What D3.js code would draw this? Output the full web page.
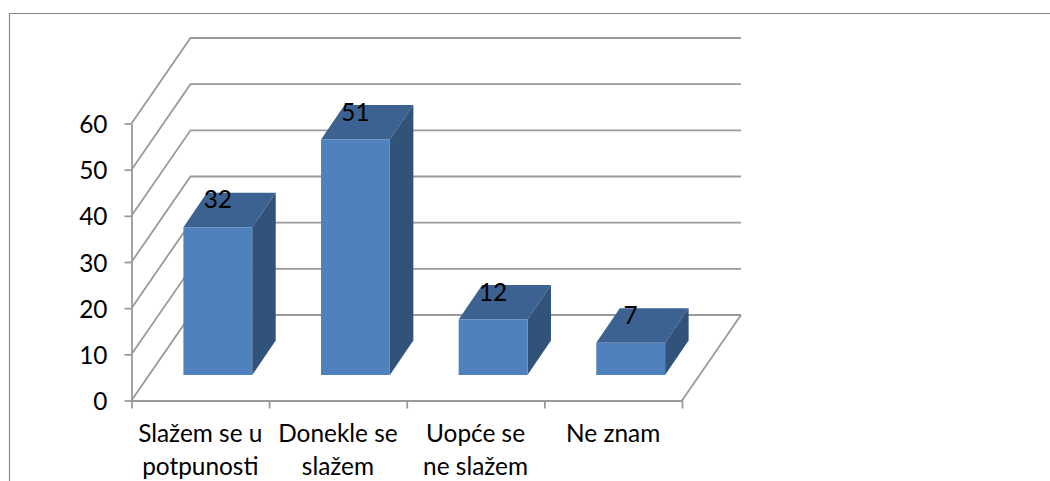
<!DOCTYPE html>
<html>
<head>
<meta charset="utf-8">
<script src="https://cdn.jsdelivr.net/npm/d3@7/dist/d3.min.js"></script>
<style>
  html, body { margin: 0; padding: 0; background: #fff; overflow: hidden; }
  svg { display: block; }
  text { font-family: Lato, "Open Sans", sans-serif; fill: #000; }
</style>
</head>
<body>
<svg width="1050" height="481"></svg>
<script>
const categories = ["Slažem se u potpunosti", "Donekle se slažem", "Uopće se ne slažem", "Ne znam"];
const categoryLines = [["Slažem se u", "potpunosti"], ["Donekle se", "slažem"], ["Uopće se", "ne slažem"], ["Ne znam"]];
const values = [32, 51, 12, 7];
const yTicks = [0, 10, 20, 30, 40, 50, 60];

const svg = d3.select("svg");
const gridCol = "#9a9a9a";
const fontSize = 24.4;

// front plane of the fake 3d box
const x = d3.scaleBand().domain(categories).range([131.5, 682]).paddingInner(0.5).paddingOuter(0.25);
const y = d3.scaleLinear().domain([0, 60]).range([400.5, 123.5]);
const xTick = d3.scaleLinear().domain([0, 4]).range([131.5, 682]);

const depth = { x: 59, y: -85.5 };      // wall depth
const barDepth = { x: 23.5, y: -34.5 }; // depth of a bar
const barShift = { x: 17.5, y: -25.5 }; // bar sits a bit inside the floor

// outer frame, cut by the picture at right and bottom
svg.append("path")
    .attr("d", "M9.5,481V13.5H1050")
    .attr("fill", "none")
    .attr("stroke", "#8a8a8a")
    .attr("stroke-width", 1.2);

// back wall + left wall grid
const grid = svg.append("g").attr("fill", "none").attr("stroke", gridCol).attr("stroke-width", 1.8);
grid.selectAll("path")
    .data(yTicks)
    .join("path")
        .attr("d", d => {
            const x0 = xTick(0), y0 = y(d);
            return d3.line()([[x0, y0], [x0 + depth.x, y0 + depth.y], [xTick(4) + depth.x, y0 + depth.y]]);
        });

// right edge of the floor
grid.append("path")
    .attr("d", d3.line()([[xTick(4), y(0)], [xTick(4) + depth.x, y(0) + depth.y]]));

// axes
const yAxis = svg.append("g")
    .attr("transform", "translate(131.5,0)")
    .call(d3.axisLeft(y).tickValues(yTicks).tickSize(7).tickSizeOuter(0).tickPadding(17));
const xAxis = svg.append("g")
    .attr("transform", `translate(0,${y(0)})`)
    .call(d3.axisBottom(xTick).tickValues(d3.range(5)).tickSize(8).tickSizeOuter(0).tickFormat(""));
svg.selectAll(".domain, .tick line").attr("stroke", gridCol).attr("stroke-width", 1.8);
yAxis.selectAll("text")
    .attr("font-size", fontSize)
    .attr("font-family", null)
    .attr("dy", "0.37em")
    .style("fill", "#000");

// bars: top, side, front
const bars = svg.selectAll("g.bar")
    .data(values)
    .join("g")
        .classed("bar", true);

function corners(d, i) {
    const x0 = x(categories[i]) + barShift.x;
    const x1 = x0 + x.bandwidth();
    const y0 = y(0) + barShift.y;
    const y1 = y(d) + barShift.y;
    return { x0, x1, y0, y1 };
}
const poly = pts => d3.line()(pts) + "Z";

bars.append("path")
    .attr("fill", "#3c6291")
    .attr("d", (d, i) => {
        const c = corners(d, i);
        return poly([[c.x0, c.y1], [c.x1, c.y1], [c.x1 + barDepth.x, c.y1 + barDepth.y], [c.x0 + barDepth.x, c.y1 + barDepth.y]]);
    });
bars.append("path")
    .attr("fill", "#325379")
    .attr("d", (d, i) => {
        const c = corners(d, i);
        return poly([[c.x1, c.y0], [c.x1, c.y1], [c.x1 + barDepth.x, c.y1 + barDepth.y], [c.x1 + barDepth.x, c.y0 + barDepth.y]]);
    });
bars.append("path")
    .attr("fill", "#4f81bd")
    .attr("d", (d, i) => {
        const c = corners(d, i);
        return poly([[c.x0, c.y0], [c.x1, c.y0], [c.x1, c.y1], [c.x0, c.y1]]);
    });

// value labels
bars.append("text")
    .attr("text-anchor", "middle")
    .attr("font-size", fontSize)
    .attr("x", (d, i) => { const c = corners(d, i); return (c.x0 + c.x1) / 2; })
    .attr("y", (d, i) => corners(d, i).y1 - 19)
    .text(d => d);

// category labels, two lines at most
const labels = svg.selectAll("text.cat")
    .data(categories)
    .join("text")
        .classed("cat", true)
        .attr("text-anchor", "middle")
        .attr("font-size", fontSize)
        .attr("x", d => x(d) + x.bandwidth() / 2);
labels.selectAll("tspan")
    .data((d, i) => categoryLines[i])
    .join("tspan")
        .attr("x", function() { return d3.select(this.parentNode).attr("x"); })
        .attr("y", (d, i) => 442 + i * 32.5)
        .text(d => d);
</script>
</body>
</html>
